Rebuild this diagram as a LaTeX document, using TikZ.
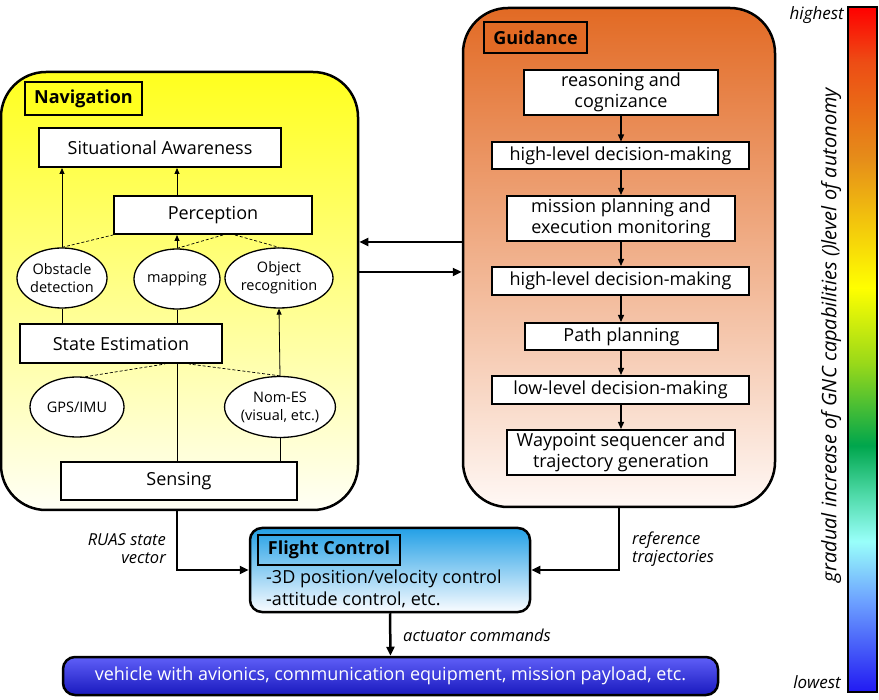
\documentclass[tikz,border=0pt]{standalone}
\usepackage{fontspec}
\setmainfont{Open Sans}
\usetikzlibrary{arrows.meta,shapes.geometric,calc}
\definecolor{navtop}{RGB}{255,255,30}
\definecolor{navmid}{RGB}{255,255,140}
\definecolor{navbot}{RGB}{255,255,245}
\definecolor{gtop}{RGB}{226,106,36}
\definecolor{gmid}{RGB}{237,168,148}
\definecolor{gbot}{RGB}{255,248,245}
\definecolor{fctop}{RGB}{35,160,230}
\definecolor{fcbot}{RGB}{250,252,255}
\definecolor{vtop}{RGB}{95,95,248}
\definecolor{vmid}{RGB}{60,60,235}
\definecolor{vbot}{RGB}{25,25,190}
\pgfdeclareverticalshading{gncbar}{100bp}{rgb(0bp)=(0.13,0.1,0.95); rgb(25bp)=(0.13,0.1,0.95); rgb(31.5bp)=(0.42,0.62,1); rgb(36bp)=(0.6,1,0.98); rgb(39.5bp)=(0.3,0.85,0.65); rgb(43bp)=(0,0.65,0.3); rgb(49bp)=(0.6,0.85,0.1); rgb(54.5bp)=(1,1,0); rgb(64bp)=(0.9,0.55,0.1); rgb(71bp)=(0.93,0.3,0.08); rgb(75bp)=(1,0,0); rgb(100bp)=(1,0,0)}
\begin{document}
\begin{tikzpicture}[x=1pt,y=-1pt,
  box/.style={draw, line width=2pt, fill=white, inner sep=1pt, font=\fontsize{18}{21}\selectfont, align=center},
  ell/.style={draw, ellipse, line width=1.3pt, fill=white, inner sep=0pt, font=\fontsize{14.5}{18}\selectfont, align=center},
  arr/.style={line width=0.8pt, -{Triangle[length=6pt,width=5pt]}},
  ln/.style={line width=0.8pt},
  dsh/.style={line width=0.7pt, dash pattern=on 3pt off 2pt},
  garr/.style={line width=1.3pt, -{Triangle[length=7pt,width=6pt]}},
  big/.style={line width=2.5pt, -{Triangle[length=9pt,width=8pt]}},
  lab/.style={font=\fontsize{16.5}{18}\selectfont\itshape, inner sep=0pt},
  panel/.style={draw, line width=2.5pt, rounded corners=45pt},
  tag/.style={draw, line width=1.8pt, font=\bfseries\fontsize{18}{20}\selectfont}
]
\useasboundingbox (0,0) rectangle (879,700);

% ---------- Navigation ----------
\node[panel, minimum width=357pt, minimum height=438pt, top color=navtop, middle color=navmid, bottom color=navbot] (navpanel) at (179.5,291) {};
\node[tag, fill=navtop, minimum width=117pt, minimum height=33pt] (navlabel) at (83.5,98.5) {Navigation};
\node[box, minimum width=242pt, minimum height=39pt] (sa) at (160,147.5) {Situational Awareness};
\node[box, minimum width=198pt, minimum height=38pt] (perc) at (213,215) {Perception};
\node[ell, minimum width=90pt, minimum height=60pt] (obst) at (62,278) {Obstacle\\detection};
\node[ell, minimum width=86pt, minimum height=60pt] (mapping) at (177,279) {mapping};
\node[ell, minimum width=108pt, minimum height=60pt] (objrec) at (279,278) {Object\\recognition};
\node[box, minimum width=202pt, minimum height=39pt] (se) at (121,343.5) {State Estimation};
\node[ell, minimum width=94pt, minimum height=60pt] (gps) at (77,407) {GPS/IMU};
\node[ell, minimum width=106pt, minimum height=61pt] (nomes) at (280,407) {Nom-ES\\(visual, etc.)};
\node[box, minimum width=236pt, minimum height=38pt] (sensing) at (179,481) {Sensing};

\draw[arr] (obst.north) -- (obst.north |- sa.south);
\draw[arr] (perc.north -| mapping.north) -- (sa.south -| mapping.north);
\draw[arr] (mapping.north) -- (mapping.north |- perc.south);
\coordinate (pj) at (perc.south);
\draw[dsh] (obst.north) -- (perc.south west);
\draw[dsh] (mapping.north) -- ([xshift=10pt]pj);
\draw[dsh] ([xshift=22pt]pj) -- (objrec.north);
\draw[ln] (obst.south) -- (obst.south |- se.north);
\draw[ln] (mapping.south) -- (mapping.south |- se.north);
\coordinate (sj) at (se.south -| mapping.south);
\draw[ln] (sensing.north -| sj) -- (sj);
\draw[dsh] (gps.75) -- ([xshift=-12pt]sj);
\draw[dsh] (nomes.north) -- ([xshift=12pt]sj);
\draw[arr] (nomes.north) -- (objrec.south);
\draw[ln] (nomes.south) -- (nomes.south |- sensing.north);

% ---------- Guidance ----------
\node[panel, minimum width=312pt, minimum height=499pt, top color=gtop, middle color=gmid, bottom color=gbot] (gpanel) at (619,257.5) {};
\node[tag, fill=gtop, minimum width=103pt, minimum height=31pt] (glabel) at (535.5,37.5) {Guidance};
\node[box, minimum width=194pt, minimum height=45pt] (g1) at (621,92.5) {reasoning and\\cognizance};
\node[box, minimum width=257pt, minimum height=27pt] (g2) at (620.5,156) {high-level decision-making};
\node[box, minimum width=228pt, minimum height=45pt] (g3) at (621,218.5) {mission planning and\\execution monitoring};
\node[box, minimum width=257pt, minimum height=28pt] (g4) at (620.5,281) {high-level decision-making};
\node[box, minimum width=193pt, minimum height=27pt] (g5) at (621.5,336.5) {Path planning};
\node[box, minimum width=257pt, minimum height=28pt] (g6) at (620.5,390) {low-level decision-making};
\node[box, minimum width=228pt, minimum height=45pt] (g7) at (621,452.5) {Waypoint sequencer and\\trajectory generation};
\foreach \a/\b in {g1/g2,g2/g3,g3/g4,g4/g5,g5/g6,g6/g7}
  \draw[garr] (\a.south -| g1.south) -- (\b.north -| g1.south);

% ---------- panel links ----------
\coordinate (ga) at ([yshift=15.5pt]gpanel.west);
\coordinate (gb) at ([yshift=-14.5pt]gpanel.west);
\draw[big] (ga) -- (ga -| navpanel.east);
\draw[big] (gb -| navpanel.east) -- (gb);

% ---------- Flight control ----------
\node[draw, line width=2.5pt, rounded corners=12pt, minimum width=280pt, minimum height=84pt, top color=fctop, bottom color=fcbot] (fc) at (390,570) {};
\node[tag, minimum width=142pt, minimum height=30pt] (fclabel) at (329,550) {Flight Control};
\node[anchor=west, align=left, inner sep=0pt, font=\fontsize{18}{22}\selectfont] (fctext) at (266,589) {-3D position/velocity control\\-attitude control, etc.};
\draw[big] (navpanel.south -| mapping.south) |- (fc.west);
\draw[big] (gpanel.south) |- (fc.east);
\node[lab, anchor=east, align=right] (ruas) at (166,549) {RUAS state\\vector};
\node[lab, anchor=west, align=left] (reft) at (632,549) {reference\\trajectories};

% ---------- vehicle ----------
\node[draw, line width=2.5pt, rounded corners=12pt, minimum width=655pt, minimum height=38pt, top color=vtop, middle color=vmid, bottom color=vbot, text=white, font=\fontsize{18}{20}\selectfont] (veh) at (390.5,676) {vehicle with avionics, communication equipment, mission payload, etc.};
\draw[big] (fc.south) -- (veh.north);
\node[lab, anchor=west] (act) at (403,635) {actuator commands};

% ---------- colour bar ----------
\node[draw, line width=1.5pt, shading=gncbar, minimum width=29pt, minimum height=685pt, inner sep=0pt] (bar) at (862.5,349.5) {};
\node[lab, anchor=east, font=\fontsize{17}{19}\selectfont\itshape] (hi) at (844,15) {highest};
\node[lab, anchor=east, font=\fontsize{17}{19}\selectfont\itshape] (lo) at (841,682) {lowest};
\node[lab, rotate=90, font=\fontsize{20}{22}\selectfont\itshape] (axis) at (831,335) {gradual increase of GNC capabilities ()level of autonomy};
\end{tikzpicture}
\end{document}
